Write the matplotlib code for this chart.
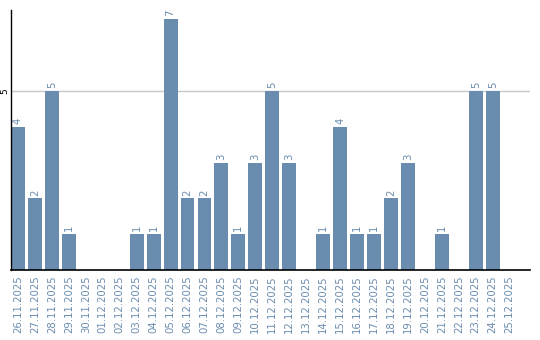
import matplotlib
matplotlib.use("Agg")
import matplotlib.pyplot as plt

dates = [
    "26.11.2025", "27.11.2025", "28.11.2025", "29.11.2025", "30.11.2025",
    "01.12.2025", "02.12.2025", "03.12.2025", "04.12.2025", "05.12.2025",
    "06.12.2025", "07.12.2025", "08.12.2025", "09.12.2025", "10.12.2025",
    "11.12.2025", "12.12.2025", "13.12.2025", "14.12.2025", "15.12.2025",
    "16.12.2025", "17.12.2025", "18.12.2025", "19.12.2025", "20.12.2025",
    "21.12.2025", "22.12.2025", "23.12.2025", "24.12.2025", "25.12.2025",
]
counts = [4, 2, 5, 1, 0, 0, 0, 1, 1, 7, 2, 2, 3, 1, 3,
          5, 3, 0, 1, 4, 1, 1, 2, 3, 0, 1, 0, 5, 5, 0]

bar_color = "#6a8caf"

fig = plt.figure(figsize=(5.4, 3.4), dpi=100)
ax = fig.add_axes([11 / 540, 70 / 340, 519 / 540, 260 / 340])

x = list(range(len(dates)))
ax.bar(x, counts, width=0.82, color=bar_color, zorder=2)

for xi, v in zip(x, counts):
    if v > 0:
        ax.text(xi, v + 0.08, str(v), rotation=90, ha="center", va="bottom",
                fontsize=7.3, color=bar_color)

ax.set_xlim(-0.41, 30.2)
ax.set_ylim(0, 7.26)

ax.set_yticks([5])
ax.set_yticklabels(["5"], rotation=90, va="center", fontsize=6.5)
ax.tick_params(axis="y", length=0, pad=1)
ax.yaxis.grid(True, color="#c8c8c8", linewidth=1, zorder=0)

ax.set_xticks(x)
ax.set_xticklabels(dates, rotation=90, fontsize=7.3, color=bar_color)
ax.tick_params(axis="x", length=0, pad=4)

for s in ["top", "right"]:
    ax.spines[s].set_visible(False)
ax.spines["left"].set_linewidth(1)
ax.spines["bottom"].set_linewidth(1.2)

fig.savefig("out.png", dpi=100)
